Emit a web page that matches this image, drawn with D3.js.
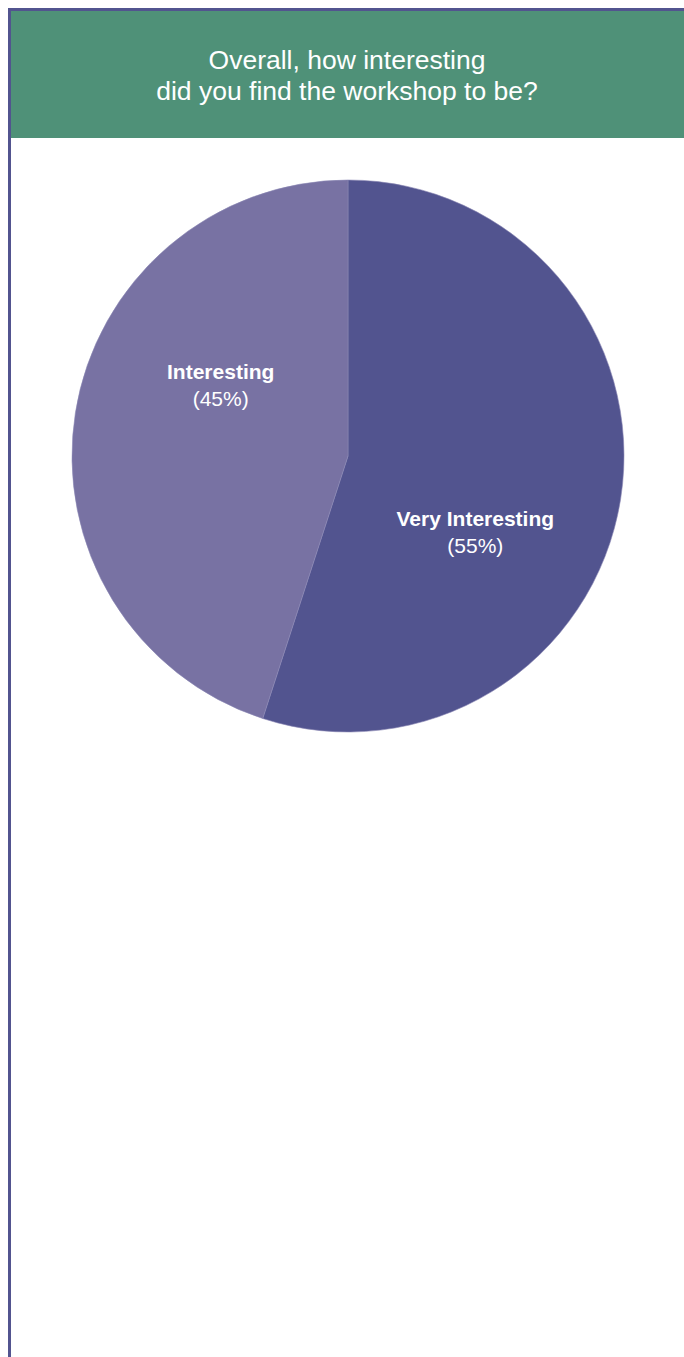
<!DOCTYPE html>
<html>
<head>
<meta charset="utf-8">
<script src="https://cdn.jsdelivr.net/npm/d3@7"></script>
<style>
  html, body { margin: 0; padding: 0; background: #fff; }
  svg { display: block; font-family: "Liberation Sans", Arial, sans-serif; }
</style>
</head>
<body>
<div id="chart"></div>
<script>
var titleLines = ['Overall, how interesting', 'did you find the workshop to be?'];
var categories = ['Very Interesting', 'Interesting'];
var shares = [55, 45];
var colors = ['#52548f', '#7872a3'];

var W = 684, H = 1357;
var svg = d3.select('#chart').append('svg')
    .attr('width', W)
    .attr('height', H);

// frame: thin purple rule on the top and the left
svg.append('rect').attr('x', 8).attr('y', 8).attr('width', W - 8).attr('height', 3).attr('fill', '#52548f');
svg.append('rect').attr('x', 8).attr('y', 8).attr('width', 3).attr('height', H - 8).attr('fill', '#52548f');

// header band
svg.append('rect').attr('x', 11).attr('y', 11).attr('width', W - 11).attr('height', 127).attr('fill', '#4f9178');

svg.append('g').selectAll('text')
    .data(titleLines)
  .enter().append('text')
    .attr('x', 347)
    .attr('y', function(d, i) { return 69 + i * 31; })
    .attr('text-anchor', 'middle')
    .attr('fill', '#fff')
    .style('font-size', '26.5px')
    .text(function(d) { return d; });

// pie
var cx = 348, cy = 456, R = 276;
var data = categories.map(function(c, i) { return { name: c, value: shares[i], color: colors[i] }; });

var pie = d3.pie().sort(null).value(function(d) { return d.value; });
var arc = d3.arc().innerRadius(0).outerRadius(R);
var arcs = pie(data);

var g = svg.append('g').attr('transform', 'translate(' + cx + ',' + cy + ')');

g.selectAll('path')
    .data(arcs)
  .enter().append('path')
    .attr('d', arc)
    .attr('fill', function(d) { return d.data.color; })
    .attr('stroke', '#8a86b4')
    .attr('stroke-width', 0.6);

// labels sit a little past the middle of each slice
var labelR = 147, shift = 21 * Math.PI / 180;
var lab = g.selectAll('g.lab')
    .data(arcs)
  .enter().append('g')
    .attr('class', 'lab')
    .attr('transform', function(d) {
      var a = (d.startAngle + d.endAngle) / 2 + shift;
      return 'translate(' + (labelR * Math.sin(a)) + ',' + (-labelR * Math.cos(a)) + ')';
    });

lab.append('text')
    .attr('y', -4)
    .attr('text-anchor', 'middle')
    .attr('fill', '#fff')
    .style('font-size', '21px')
    .style('font-weight', 'bold')
    .text(function(d) { return d.data.name; });

lab.append('text')
    .attr('y', 23)
    .attr('text-anchor', 'middle')
    .attr('fill', '#fff')
    .style('font-size', '21px')
    .text(function(d) { return '(' + d.data.value + '%)'; });
</script>
</body>
</html>
